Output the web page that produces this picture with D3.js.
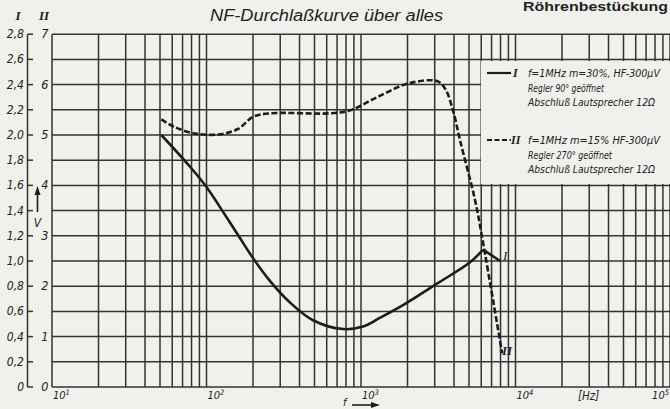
<!DOCTYPE html>
<html>
<head>
<meta charset="utf-8">
<script src="https://cdn.jsdelivr.net/npm/d3@7"></script>
<style>
  html, body { margin: 0; padding: 0; background: #f0f0ec; overflow: hidden; }
  svg text { font-family: "Liberation Sans Narrow", "DejaVu Sans Condensed", "Liberation Sans", sans-serif; font-style: italic; fill: #222; }
</style>
</head>
<body>
<svg></svg>
<script>
// curve I (solid), read on scale I [V]
var freqI = [51, 78, 101, 128, 165, 206, 258, 347, 489, 764, 1030, 1330, 1870, 3100, 5080, 6170];
var voltI = [2.0, 1.75, 1.58, 1.39, 1.18, 1.0, 0.84, 0.67, 0.53, 0.46, 0.48, 0.55, 0.65, 0.82, 0.99, 1.09];
var tailFreqI = [6170, 7950];
var tailVoltI = [1.09, 1.0];

// curve II (dashed), read on scale II
var freqII = [51, 62, 84, 119, 160, 200, 258, 630, 850, 1270, 2015, 3100, 3500, 3940, 4370, 5470, 6170, 8190];
var voltII = [5.31, 5.16, 5.03, 5.01, 5.12, 5.36, 5.43, 5.43, 5.49, 5.75, 6.02, 6.07, 5.92, 5.49, 4.90, 3.71, 2.86, 0.67];

var ticksI = [0, 0.2, 0.4, 0.6, 0.8, 1.0, 1.2, 1.4, 1.6, 1.8, 2.0, 2.2, 2.4, 2.6, 2.8];
var labelsI = ['0', '0,2', '0,4', '0,6', '0,8', '1,0', '1,2', '1,4', '1,6', '1,8', '2,0', '2,2', '2,4', '2,6', '2,8'];
var ticksII = [0, 1, 2, 3, 4, 5, 6, 7];
var decades = [10, 100, 1000, 10000, 100000];
var decadeExp = ['1', '2', '3', '4', '5'];

var legendLines = [
  ['f=1MHz m=30%, HF-300\u00b5V', 'Regler 90\u00b0 ge\u00f6ffnet', 'Abschlu\u00df Lautsprecher 12\u03a9'],
  ['f=1MHz m=15% HF-300\u00b5V', 'Regler 270\u00b0 ge\u00f6ffnet', 'Abschlu\u00df Lautsprecher 12\u03a9']
];

var width = 670;
var height = 409;
var svg = d3.select('svg')
            .attr('width', width)
            .attr('height', height);

var plot = { left: 52, right: 670, top: 34.2, bottom: 387 };
var ink = '#1c1c1c';
var gridColor = '#333';
var paper = '#f0f0ec';

var xScale = d3.scaleLog()
               .domain([10, 100000])
               .range([plot.left, plot.right]);

var yScale = d3.scaleLinear()
               .domain([0, 2.8])
               .range([plot.bottom, plot.top]);

var y2Scale = d3.scaleLinear()
                .domain([0, 7])
                .range([plot.bottom, plot.top]);

// grid
var vlines = [];
decades.slice(0, 4).forEach(function(d) {
  for (var m = 1; m < 10; m++) vlines.push(d * m);
});
vlines.push(100000);

svg.append('g').selectAll('line')
   .data(vlines)
   .enter()
   .append('line')
   .attr('x1', d => xScale(d))
   .attr('x2', d => xScale(d))
   .attr('y1', plot.top)
   .attr('y2', plot.bottom)
   .attr('stroke', gridColor)
   .attr('stroke-width', 1.5);

svg.append('g').selectAll('line')
   .data(ticksI)
   .enter()
   .append('line')
   .attr('x1', plot.left)
   .attr('x2', plot.right)
   .attr('y1', d => yScale(d))
   .attr('y2', d => yScale(d))
   .attr('stroke', gridColor)
   .attr('stroke-width', 1.5);

// left scale bar
svg.append('line')
   .attr('x1', 27.5).attr('x2', 27.5)
   .attr('y1', plot.top).attr('y2', plot.bottom)
   .attr('stroke', gridColor).attr('stroke-width', 1.5);

svg.append('g').selectAll('line')
   .data(ticksI)
   .enter()
   .append('line')
   .attr('x1', 27.5)
   .attr('x2', 33)
   .attr('y1', d => yScale(d))
   .attr('y2', d => yScale(d))
   .attr('stroke', gridColor)
   .attr('stroke-width', 1.5);

svg.append('g').selectAll('text')
   .data(ticksI)
   .enter()
   .append('text')
   .attr('x', 24)
   .attr('y', d => yScale(d) + 4)
   .attr('text-anchor', 'end')
   .attr('font-size', 12)
   .text((d, i) => labelsI[i]);

svg.append('g').selectAll('text')
   .data(ticksII)
   .enter()
   .append('text')
   .attr('x', 48.5)
   .attr('y', d => y2Scale(d) + 4)
   .attr('text-anchor', 'end')
   .attr('font-size', 12.5)
   .text(d => d);

// scale headers
svg.append('text')
   .attr('x', 18).attr('y', 20)
   .attr('text-anchor', 'middle')
   .style('font-family', '"Liberation Serif", serif')
   .style('font-weight', 'bold')
   .attr('font-size', 13)
   .text('I');
svg.append('text')
   .attr('x', 44).attr('y', 20)
   .attr('text-anchor', 'middle')
   .style('font-family', '"Liberation Serif", serif')
   .style('font-weight', 'bold')
   .attr('font-size', 13)
   .text('II');

// V arrow
svg.append('line')
   .attr('x1', 37.5).attr('x2', 37.5)
   .attr('y1', 193).attr('y2', 212)
   .attr('stroke', ink).attr('stroke-width', 1.6);
svg.append('path')
   .attr('d', 'M37.5,186 L34.5,195 L40.5,195 Z')
   .attr('fill', ink);
svg.append('text')
   .attr('x', 37.5).attr('y', 227)
   .attr('text-anchor', 'middle')
   .attr('font-size', 12)
   .text('V');

// x labels
var xl = svg.append('g').selectAll('text')
   .data(decades)
   .enter()
   .append('text')
   .attr('x', (d, i) => i == 4 ? xScale(d) - 1 : xScale(d) + 1)
   .attr('text-anchor', (d, i) => i == 4 ? 'end' : 'start')
   .attr('y', 399)
   .attr('font-size', 11);
xl.append('tspan').text('10');
xl.append('tspan')
  .attr('dy', -4)
  .attr('font-size', 7.5)
  .text((d, i) => decadeExp[i]);

svg.append('text')
   .attr('x', 578).attr('y', 400)
   .attr('font-size', 11.5)
   .text('[Hz]');

svg.append('text')
   .attr('x', 343).attr('y', 406)
   .attr('font-size', 11)
   .text('f');
svg.append('line')
   .attr('x1', 352).attr('x2', 372)
   .attr('y1', 405).attr('y2', 405)
   .attr('stroke', ink).attr('stroke-width', 1.6);
svg.append('path')
   .attr('d', 'M380,405 L371,402 L371,408 Z')
   .attr('fill', ink);

// titles
svg.append('text')
   .attr('x', 210).attr('y', 21)
   .attr('font-size', 16)
   .attr('textLength', 233)
   .attr('lengthAdjust', 'spacingAndGlyphs')
   .style('font-family', '"Liberation Sans", sans-serif')
   .text('NF-Durchla\u00dfkurve \u00fcber alles');

svg.append('text')
   .attr('x', 523).attr('y', 11)
   .attr('font-size', 13)
   .attr('textLength', 145)
   .attr('lengthAdjust', 'spacingAndGlyphs')
   .style('font-family', '"Liberation Sans", sans-serif')
   .style('font-style', 'normal')
   .style('font-weight', 'bold')
   .text('R\u00f6hrenbest\u00fcckung');

// curves
var lineI = d3.line()
              .x(d => xScale(d[0]))
              .y(d => yScale(d[1]))
              .curve(d3.curveCatmullRom.alpha(0.5));

var lineII = d3.line()
               .x(d => xScale(d[0]))
               .y(d => y2Scale(d[1]))
               .curve(d3.curveCatmullRom.alpha(0.5));

svg.append('path')
   .attr('d', lineI(d3.zip(freqI, voltI)))
   .attr('fill', 'none')
   .attr('stroke', ink)
   .attr('stroke-width', 2.6);

svg.append('path')
   .attr('d', d3.line().x(d => xScale(d[0])).y(d => yScale(d[1]))(d3.zip(tailFreqI, tailVoltI)))
   .attr('fill', 'none')
   .attr('stroke', ink)
   .attr('stroke-width', 2.6);

svg.append('path')
   .attr('d', lineII(d3.zip(freqII, voltII)))
   .attr('fill', 'none')
   .attr('stroke', ink)
   .attr('stroke-width', 2.6)
   .attr('stroke-dasharray', '6,2.5');

// curve labels
svg.append('text')
   .attr('x', 503).attr('y', 260)
   .style('font-family', '"Liberation Serif", serif')
   .attr('font-size', 13)
   .text('I');
svg.append('text')
   .attr('x', 502).attr('y', 355)
   .style('font-family', '"Liberation Serif", serif')
   .style('font-weight', 'bold')
   .attr('font-size', 13)
   .text('II');

// legend box
svg.append('rect')
   .attr('x', 481).attr('y', 61)
   .attr('width', 189).attr('height', 123)
   .attr('fill', paper);

var legY = [73, 140];
legendLines.forEach(function(lines, k) {
  svg.append('line')
     .attr('x1', 487).attr('x2', 511)
     .attr('y1', legY[k]).attr('y2', legY[k])
     .attr('stroke', ink)
     .attr('stroke-width', 2.2)
     .attr('stroke-dasharray', k == 0 ? null : '5,2.5');
  svg.append('text')
     .attr('x', k == 0 ? 513 : 511).attr('y', legY[k] + 4)
     .style('font-family', '"Liberation Serif", serif')
     .style('font-weight', 'bold')
     .attr('font-size', 12)
     .text(k == 0 ? 'I' : 'II');
  lines.forEach(function(t, i) {
    svg.append('text')
       .attr('x', 528)
       .attr('y', legY[k] + 4 + i * 14.5)
       .attr('font-size', 11)
       .attr('textLength', i == 0 ? 132 : (i == 1 ? (k == 0 ? 76 : 84) : 127))
       .attr('lengthAdjust', 'spacingAndGlyphs')
       .text(t);
  });
});
</script>
</body>
</html>
